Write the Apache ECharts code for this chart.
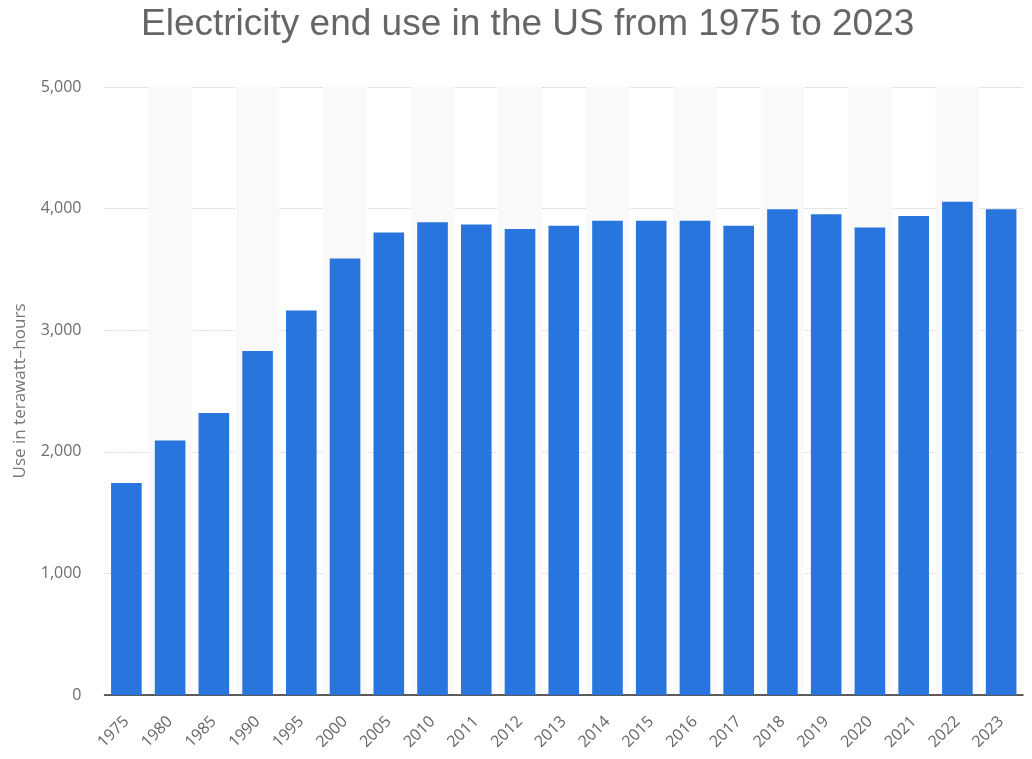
<!DOCTYPE html>
<html>
<head>
<meta charset="utf-8">
<style>
  html, body { margin: 0; padding: 0; background: #ffffff; }
  #chart { width: 1032px; height: 759px; }
</style>
<script src="https://cdn.jsdelivr.net/npm/echarts@6/dist/echarts.min.js"></script>
</head>
<body>
<div id="chart"></div>
<script>
const titleText = 'Electricity end use in the US from 1975 to 2023';
const yAxisTitle = 'Use in terawatt\u2013hours';
const years = ['1975','1980','1985','1990','1995','2000','2005','2010','2011','2012','2013','2014','2015','2016','2017','2018','2019','2020','2021','2022','2023'];
const useTWh = [1744, 2093, 2319, 2828, 3163, 3590, 3804, 3887, 3870, 3832, 3859, 3900, 3900, 3900, 3859, 3994, 3953, 3845, 3939, 4057, 3994];
const yTicks = { min: 0, max: 5000, interval: 1000 };

const chart = echarts.init(document.getElementById('chart'), null, { renderer: 'canvas' });
chart.setOption({
  animation: false,
  backgroundColor: '#ffffff',
  title: {
    text: titleText,
    left: 136,
    top: 1,
    textStyle: { fontFamily: 'Liberation Sans', fontSize: 37, fontWeight: 'normal', color: '#666666' }
  },
  grid: { left: 104.5, right: 9, top: 87, bottom: 64, containLabel: false },
  xAxis: {
    type: 'category',
    data: years,
    boundaryGap: true,
    axisLine: { show: true, lineStyle: { color: '#2b2b2b', width: 1.5 } },
    axisTick: { show: false },
    axisLabel: { rotate: 45, margin: 24, interval: 0, color: '#666666', fontFamily: 'Open Sans', fontSize: 16 },
    splitArea: { show: true, areaStyle: { color: ['rgba(255,255,255,0)', '#f9f9f9'] } },
    splitLine: { show: false }
  },
  yAxis: {
    type: 'value',
    min: yTicks.min,
    max: yTicks.max,
    interval: yTicks.interval,
    name: yAxisTitle,
    nameLocation: 'middle',
    nameGap: 76,
    nameTextStyle: { color: '#777777', fontFamily: 'Open Sans', fontSize: 17 },
    axisLine: { show: false },
    axisTick: { show: false },
    axisLabel: {
      margin: 23,
      color: '#6e6e6e',
      fontFamily: 'Open Sans',
      fontSize: 16,
      formatter: v => v.toLocaleString('en-US')
    },
    splitLine: { show: true, lineStyle: { color: '#b4b4b4', type: [1, 2], width: 1 } }
  },
  series: [{
    type: 'bar',
    data: useTWh,
    barCategoryGap: '30%',
    itemStyle: { color: '#2876dd' }
  }]
});
</script>
</body>
</html>
